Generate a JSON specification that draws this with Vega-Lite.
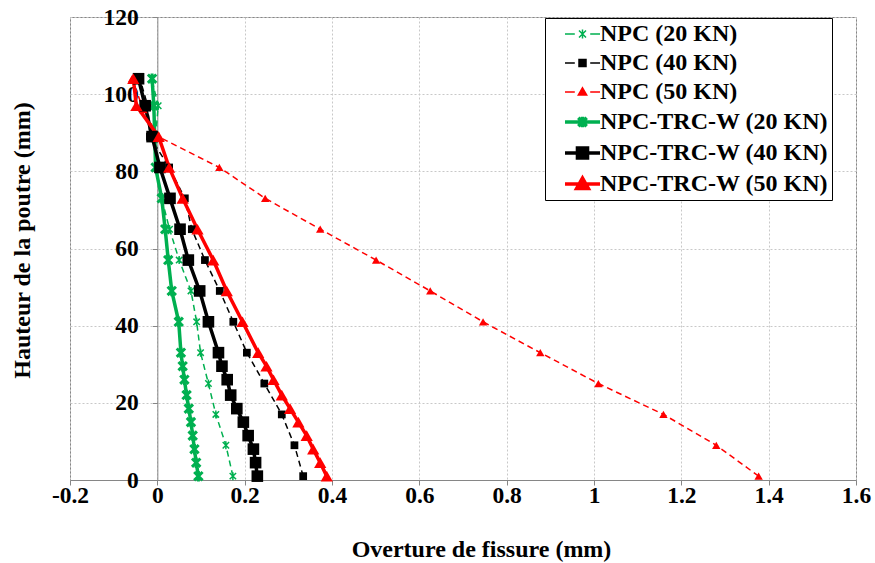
{
  "$schema": "https://vega.github.io/schema/vega-lite/v6.json",
  "width": 786,
  "height": 463,
  "autosize": {"type": "none"},
  "padding": {"left": 70, "top": 17, "right": 19, "bottom": 83},
  "background": "white",
  "config": {
    "font": "Liberation Serif",
    "view": {"stroke": "#868686", "strokeWidth": 1},
    "axis": {
      "labelFont": "Liberation Serif", "labelFontWeight": "bold", "labelFontSize": 23.5, "labelColor": "black",
      "titleFont": "Liberation Serif", "titleFontWeight": "bold", "titleFontSize": 24, "titleColor": "black",
      "domainColor": "#868686", "tickColor": "#868686", "tickSize": 5,
      "gridColor": "#c8c8c8", "gridDash": [2, 2], "gridWidth": 1
    }
  },
  "data": {"values": [
    {"s": "NPC (20 KN)", "x": 0.173, "y": 1}, {"s": "NPC (20 KN)", "x": 0.157, "y": 9}, {"s": "NPC (20 KN)", "x": 0.134, "y": 17}, {"s": "NPC (20 KN)", "x": 0.117, "y": 25}, {"s": "NPC (20 KN)", "x": 0.099, "y": 33}, {"s": "NPC (20 KN)", "x": 0.090, "y": 41}, {"s": "NPC (20 KN)", "x": 0.077, "y": 49}, {"s": "NPC (20 KN)", "x": 0.050, "y": 57}, {"s": "NPC (20 KN)", "x": 0.028, "y": 65}, {"s": "NPC (20 KN)", "x": 0.010, "y": 73}, {"s": "NPC (20 KN)", "x": -0.003, "y": 81}, {"s": "NPC (20 KN)", "x": -0.004, "y": 89}, {"s": "NPC (20 KN)", "x": 0.002, "y": 97}, {"s": "NPC (20 KN)", "x": -0.013, "y": 104},
    {"s": "NPC (40 KN)", "x": 0.334, "y": 1}, {"s": "NPC (40 KN)", "x": 0.314, "y": 9}, {"s": "NPC (40 KN)", "x": 0.285, "y": 17}, {"s": "NPC (40 KN)", "x": 0.245, "y": 25}, {"s": "NPC (40 KN)", "x": 0.205, "y": 33}, {"s": "NPC (40 KN)", "x": 0.174, "y": 41}, {"s": "NPC (40 KN)", "x": 0.143, "y": 49}, {"s": "NPC (40 KN)", "x": 0.109, "y": 57}, {"s": "NPC (40 KN)", "x": 0.079, "y": 65}, {"s": "NPC (40 KN)", "x": 0.063, "y": 73}, {"s": "NPC (40 KN)", "x": 0.027, "y": 81}, {"s": "NPC (40 KN)", "x": -0.017, "y": 89}, {"s": "NPC (40 KN)", "x": -0.022, "y": 97}, {"s": "NPC (40 KN)", "x": -0.040, "y": 104},
    {"s": "NPC (50 KN)", "x": 1.377, "y": 1}, {"s": "NPC (50 KN)", "x": 1.28, "y": 9}, {"s": "NPC (50 KN)", "x": 1.159, "y": 17}, {"s": "NPC (50 KN)", "x": 1.01, "y": 25}, {"s": "NPC (50 KN)", "x": 0.877, "y": 33}, {"s": "NPC (50 KN)", "x": 0.746, "y": 41}, {"s": "NPC (50 KN)", "x": 0.625, "y": 49}, {"s": "NPC (50 KN)", "x": 0.501, "y": 57}, {"s": "NPC (50 KN)", "x": 0.373, "y": 65}, {"s": "NPC (50 KN)", "x": 0.247, "y": 73}, {"s": "NPC (50 KN)", "x": 0.142, "y": 81}, {"s": "NPC (50 KN)", "x": 0.002, "y": 89}, {"s": "NPC (50 KN)", "x": -0.032, "y": 96}, {"s": "NPC (50 KN)", "x": -0.058, "y": 104},
    {"s": "NPC-TRC-W (20 KN)", "x": 0.094, "y": 1}, {"s": "NPC-TRC-W (20 KN)", "x": 0.089, "y": 4.5}, {"s": "NPC-TRC-W (20 KN)", "x": 0.085, "y": 8}, {"s": "NPC-TRC-W (20 KN)", "x": 0.081, "y": 11.5}, {"s": "NPC-TRC-W (20 KN)", "x": 0.077, "y": 15}, {"s": "NPC-TRC-W (20 KN)", "x": 0.072, "y": 18.5}, {"s": "NPC-TRC-W (20 KN)", "x": 0.067, "y": 22}, {"s": "NPC-TRC-W (20 KN)", "x": 0.062, "y": 26}, {"s": "NPC-TRC-W (20 KN)", "x": 0.058, "y": 29.5}, {"s": "NPC-TRC-W (20 KN)", "x": 0.054, "y": 33}, {"s": "NPC-TRC-W (20 KN)", "x": 0.049, "y": 41}, {"s": "NPC-TRC-W (20 KN)", "x": 0.033, "y": 49}, {"s": "NPC-TRC-W (20 KN)", "x": 0.025, "y": 57}, {"s": "NPC-TRC-W (20 KN)", "x": 0.018, "y": 65}, {"s": "NPC-TRC-W (20 KN)", "x": 0.010, "y": 73}, {"s": "NPC-TRC-W (20 KN)", "x": -0.004, "y": 81}, {"s": "NPC-TRC-W (20 KN)", "x": -0.006, "y": 89}, {"s": "NPC-TRC-W (20 KN)", "x": -0.008, "y": 97}, {"s": "NPC-TRC-W (20 KN)", "x": -0.012, "y": 104},
    {"s": "NPC-TRC-W (40 KN)", "x": 0.229, "y": 1}, {"s": "NPC-TRC-W (40 KN)", "x": 0.225, "y": 4.5}, {"s": "NPC-TRC-W (40 KN)", "x": 0.220, "y": 8}, {"s": "NPC-TRC-W (40 KN)", "x": 0.208, "y": 11.5}, {"s": "NPC-TRC-W (40 KN)", "x": 0.197, "y": 15}, {"s": "NPC-TRC-W (40 KN)", "x": 0.182, "y": 18.5}, {"s": "NPC-TRC-W (40 KN)", "x": 0.168, "y": 22}, {"s": "NPC-TRC-W (40 KN)", "x": 0.160, "y": 26}, {"s": "NPC-TRC-W (40 KN)", "x": 0.148, "y": 29.5}, {"s": "NPC-TRC-W (40 KN)", "x": 0.140, "y": 33}, {"s": "NPC-TRC-W (40 KN)", "x": 0.117, "y": 41}, {"s": "NPC-TRC-W (40 KN)", "x": 0.097, "y": 49}, {"s": "NPC-TRC-W (40 KN)", "x": 0.071, "y": 57}, {"s": "NPC-TRC-W (40 KN)", "x": 0.052, "y": 65}, {"s": "NPC-TRC-W (40 KN)", "x": 0.029, "y": 73}, {"s": "NPC-TRC-W (40 KN)", "x": 0.006, "y": 81}, {"s": "NPC-TRC-W (40 KN)", "x": -0.012, "y": 89}, {"s": "NPC-TRC-W (40 KN)", "x": -0.028, "y": 97}, {"s": "NPC-TRC-W (40 KN)", "x": -0.043, "y": 104},
    {"s": "NPC-TRC-W (50 KN)", "x": 0.388, "y": 1}, {"s": "NPC-TRC-W (50 KN)", "x": 0.373, "y": 4.5}, {"s": "NPC-TRC-W (50 KN)", "x": 0.357, "y": 8}, {"s": "NPC-TRC-W (50 KN)", "x": 0.342, "y": 11.5}, {"s": "NPC-TRC-W (50 KN)", "x": 0.323, "y": 15}, {"s": "NPC-TRC-W (50 KN)", "x": 0.304, "y": 18.5}, {"s": "NPC-TRC-W (50 KN)", "x": 0.285, "y": 22}, {"s": "NPC-TRC-W (50 KN)", "x": 0.266, "y": 26}, {"s": "NPC-TRC-W (50 KN)", "x": 0.250, "y": 29.5}, {"s": "NPC-TRC-W (50 KN)", "x": 0.231, "y": 33}, {"s": "NPC-TRC-W (50 KN)", "x": 0.195, "y": 41}, {"s": "NPC-TRC-W (50 KN)", "x": 0.159, "y": 49}, {"s": "NPC-TRC-W (50 KN)", "x": 0.128, "y": 57}, {"s": "NPC-TRC-W (50 KN)", "x": 0.092, "y": 65}, {"s": "NPC-TRC-W (50 KN)", "x": 0.058, "y": 73}, {"s": "NPC-TRC-W (50 KN)", "x": 0.027, "y": 81}, {"s": "NPC-TRC-W (50 KN)", "x": 0.003, "y": 89}, {"s": "NPC-TRC-W (50 KN)", "x": -0.048, "y": 97}, {"s": "NPC-TRC-W (50 KN)", "x": -0.055, "y": 104}
  ]},
  "layer": [
    {
      "transform": [{"filter": "datum.s === 'NPC (20 KN)' || datum.s === 'NPC (40 KN)' || datum.s === 'NPC (50 KN)'"}],
      "mark": {"type": "line", "strokeWidth": 1.5, "strokeDash": [6, 4]},
      "encoding": {
        "x": {"field": "x", "type": "quantitative", "title": "Overture de fissure (mm)",
          "scale": {"domain": [-0.2, 1.6], "nice": false, "zero": false},
          "axis": {"values": [-0.2, 0, 0.2, 0.4, 0.6, 0.8, 1, 1.2, 1.4, 1.6], "labelExpr": "'' + datum.value", "labelFlush": false, "labelPadding": -2,
            "titleX": 411, "titleY": 76, "titleAlign": "center", "titleBaseline": "alphabetic", "titleAnchor": "middle"}},
        "y": {"field": "y", "type": "quantitative", "title": "Hauteur de la poutre (mm)",
          "scale": {"domain": [0, 120], "nice": false},
          "axis": {"values": [0, 20, 40, 60, 80, 100, 120], "offset": -87.33, "labelPadding": 14,
            "titleX": -128, "titleY": 223, "titleAlign": "center", "titleBaseline": "alphabetic", "titleAngle": 270}},
        "order": {"field": "y", "type": "quantitative"},
        "color": {"field": "s", "type": "nominal",
          "scale": {"domain": ["NPC (20 KN)", "NPC (40 KN)", "NPC (50 KN)", "NPC-TRC-W (20 KN)", "NPC-TRC-W (40 KN)", "NPC-TRC-W (50 KN)"],
                    "range": ["#00B050", "#000000", "#FF0000", "#00B050", "#000000", "#FF0000"]},
          "legend": {
            "orient": "none", "legendX": 475, "legendY": 1, "title": null,
            "strokeColor": "black", "fillColor": "white", "padding": 4,
            "labelFont": "Liberation Serif", "labelFontWeight": "bold", "labelFontSize": 24, "labelColor": "black",
            "labelLimit": 500,
            "symbolSize": 784, "symbolOffset": 21.5, "labelOffset": 5.5, "rowPadding": 5,
            "encode": {
              "entries": {"update": {"width": {"value": 303}, "height": {"value": 24}, "fill": {"value": "transparent"}}},
              "symbols": {"update": {
              "shape": {"signal": "datum.value === 'NPC (20 KN)' ? 'M-1.25,0H-0.55M0.55,0H1.25M-0.25,-0.25L0.25,0.25M-0.25,0.25L0.25,-0.25M0,-0.32V0.32' : datum.value === 'NPC (40 KN)' ? 'M-1.25,0H-0.55M0.55,0H1.25M-0.25,-0.25H0.25V0.25H-0.25Z' : datum.value === 'NPC (50 KN)' ? 'M-1.25,0H-0.55M0.55,0H1.25M0,-0.3L0.3,0.22H-0.3Z' : datum.value === 'NPC-TRC-W (20 KN)' ? 'M-1.25,0H1.25M-0.3,-0.3L0.3,0.3M-0.3,0.3L0.3,-0.3M0,-0.38V0.38' : datum.value === 'NPC-TRC-W (40 KN)' ? 'M-1.25,0H1.25M-0.36,-0.36H0.36V0.36H-0.36Z' : 'M-1.25,0H1.25M0,-0.42L0.42,0.32H-0.42Z'"},
              "size": {"value": 784},
              "fill": {"signal": "datum.value === 'NPC (20 KN)' || datum.value === 'NPC-TRC-W (20 KN)' ? '#00B050' : datum.value === 'NPC (40 KN)' || datum.value === 'NPC-TRC-W (40 KN)' ? '#000000' : '#FF0000'"},
              "stroke": {"signal": "datum.value === 'NPC (20 KN)' || datum.value === 'NPC-TRC-W (20 KN)' ? '#00B050' : datum.value === 'NPC (40 KN)' || datum.value === 'NPC-TRC-W (40 KN)' ? '#000000' : '#FF0000'"},
              "strokeWidth": {"signal": "datum.value === 'NPC (20 KN)' || datum.value === 'NPC (40 KN)' || datum.value === 'NPC (50 KN)' ? 1.5 : 3.5"},
              "opacity": {"value": 1},
              "fillOpacity": {"value": 1}
            }}}
          }}
      }
    },
    {
      "transform": [{"filter": "datum.s === 'NPC-TRC-W (20 KN)' || datum.s === 'NPC-TRC-W (40 KN)' || datum.s === 'NPC-TRC-W (50 KN)'"}],
      "mark": {"type": "line", "strokeWidth": 3.5},
      "encoding": {
        "x": {"field": "x", "type": "quantitative"},
        "y": {"field": "y", "type": "quantitative"},
        "order": {"field": "y", "type": "quantitative"},
        "color": {"field": "s", "type": "nominal"}
      }
    },
    {
      "transform": [{"filter": "datum.s === 'NPC (20 KN)'"}],
      "mark": {"type": "point", "filled": false, "size": 64, "strokeWidth": 1.5, "opacity": 1, "shape": "M-0.8,-0.8L0.8,0.8M-0.8,0.8L0.8,-0.8M0,-1V1"},
      "encoding": {
        "x": {"field": "x", "type": "quantitative"},
        "y": {"field": "y", "type": "quantitative"},
        "color": {"field": "s", "type": "nominal"}
      }
    },
    {
      "transform": [{"filter": "datum.s === 'NPC (40 KN)'"}],
      "mark": {"type": "point", "filled": true, "size": 60, "opacity": 1, "shape": "square"},
      "encoding": {
        "x": {"field": "x", "type": "quantitative"},
        "y": {"field": "y", "type": "quantitative"},
        "color": {"field": "s", "type": "nominal"}
      }
    },
    {
      "transform": [{"filter": "datum.s === 'NPC (50 KN)'"}],
      "mark": {"type": "point", "filled": true, "size": 70, "opacity": 1, "shape": "triangle-up"},
      "encoding": {
        "x": {"field": "x", "type": "quantitative"},
        "y": {"field": "y", "type": "quantitative"},
        "color": {"field": "s", "type": "nominal"}
      }
    },
    {
      "transform": [{"filter": "datum.s === 'NPC-TRC-W (20 KN)'"}],
      "mark": {"type": "point", "filled": false, "size": 110, "strokeWidth": 3, "opacity": 1, "shape": "M-0.8,-0.8L0.8,0.8M-0.8,0.8L0.8,-0.8M0,-1V1"},
      "encoding": {
        "x": {"field": "x", "type": "quantitative"},
        "y": {"field": "y", "type": "quantitative"},
        "color": {"field": "s", "type": "nominal"}
      }
    },
    {
      "transform": [{"filter": "datum.s === 'NPC-TRC-W (40 KN)'"}],
      "mark": {"type": "point", "filled": true, "size": 135, "opacity": 1, "shape": "square"},
      "encoding": {
        "x": {"field": "x", "type": "quantitative"},
        "y": {"field": "y", "type": "quantitative"},
        "color": {"field": "s", "type": "nominal"}
      }
    },
    {
      "transform": [{"filter": "datum.s === 'NPC-TRC-W (50 KN)'"}],
      "mark": {"type": "point", "filled": true, "size": 150, "opacity": 1, "shape": "triangle-up"},
      "encoding": {
        "x": {"field": "x", "type": "quantitative"},
        "y": {"field": "y", "type": "quantitative"},
        "color": {"field": "s", "type": "nominal"}
      }
    }
  ]
}
